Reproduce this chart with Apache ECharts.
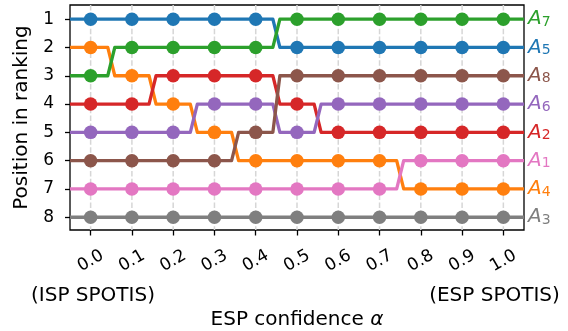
<!DOCTYPE html>
<html>
<head>
<meta charset="utf-8">
<script src="https://cdn.jsdelivr.net/npm/echarts@6/dist/echarts.min.js"></script>
<style>
html,body{margin:0;padding:0;background:#fff;}
#c{width:568px;height:331px;}
</style>
</head>
<body>
<div id="c"></div>
<script>
// ---- data ----
const alphas = ['0.0','0.1','0.2','0.3','0.4','0.5','0.6','0.7','0.8','0.9','1.0'];
const rankTicks = [1, 2, 3, 4, 5, 6, 7, 8];
const seriesNames = ['A5', 'A4', 'A7', 'A2', 'A6', 'A8', 'A1', 'A3'];
const seriesSubs  = ['5', '4', '7', '2', '6', '8', '1', '3'];
const seriesColors = ['#1f77b4', '#ff7f0e', '#2ca02c', '#d62728', '#9467bd', '#8c564b', '#e377c2', '#7f7f7f'];
const rankA5 = [1, 1, 1, 1, 1, 2, 2, 2, 2, 2, 2];
const rankA4 = [2, 3, 4, 5, 6, 6, 6, 6, 7, 7, 7];
const rankA7 = [3, 2, 2, 2, 2, 1, 1, 1, 1, 1, 1];
const rankA2 = [4, 4, 3, 3, 3, 4, 5, 5, 5, 5, 5];
const rankA6 = [5, 5, 5, 4, 4, 5, 4, 4, 4, 4, 4];
const rankA8 = [6, 6, 6, 6, 5, 3, 3, 3, 3, 3, 3];
const rankA1 = [7, 7, 7, 7, 7, 7, 7, 7, 6, 6, 6];
const rankA3 = [8, 8, 8, 8, 8, 8, 8, 8, 8, 8, 8];
const xLabelText = 'ESP confidence ';
const yLabelText = 'Position in ranking';
const leftNote = '(ISP SPOTIS)';
const rightNote = '(ESP SPOTIS)';

const allRanks = [rankA5, rankA4, rankA7, rankA2, rankA6, rankA8, rankA1, rankA3];
const FONT = 'DejaVu Sans';

// right labels: series finishing at each rank
const endByRank = rankTicks.map(r => allRanks.findIndex(rk => rk[rk.length - 1] === r));
const rich = {};
rankTicks.forEach((r, i) => {
  const k = endByRank[i];
  rich['a' + r] = {fontFamily: FONT, fontStyle: 'italic', fontSize: 20, color: seriesColors[k], lineHeight: 20, verticalAlign: 'bottom'};
  rich['s' + r] = {fontFamily: FONT, fontSize: 14, color: seriesColors[k], lineHeight: 14, padding: [9, 0, 0, 0], verticalAlign: 'bottom'};
});

function lineRenderer(ranks, color) {
  return function (params, api) {
    if (params.dataIndex !== 0) return null;
    const cs = params.coordSys;
    const pts = ranks.map((r, i) => api.coord([i, r]));
    const out = [[cs.x, pts[0][1]]];
    for (let i = 0; i < pts.length; i++) {
      if (i > 0) {
        const p0 = pts[i - 1], p1 = pts[i];
        const dx = p1[0] - p0[0];
        if (Math.abs(p0[1] - p1[1]) > 0.1) {
          out.push([p0[0] + dx * 0.415, p0[1]]);
          out.push([p0[0] + dx * 0.585, p1[1]]);
        }
      }
      out.push(pts[i]);
    }
    out.push([cs.x + cs.width, pts[pts.length - 1][1]]);
    return {
      type: 'polyline',
      shape: {points: out},
      style: {stroke: color, lineWidth: 3.3, fill: null, lineJoin: 'round'}
    };
  };
}

const series = [];
// vertical dashed grid lines
series.push({
  type: 'custom',
  silent: true,
  z: 1,
  data: alphas.map((a, i) => [i, 1]),
  renderItem: function (params, api) {
    const cs = params.coordSys;
    const x = api.coord([api.value(0), 1])[0];
    return {
      type: 'line',
      shape: {x1: x, y1: cs.y, x2: x, y2: cs.y + cs.height},
      style: {stroke: '#d6d6d6', lineWidth: 1.5, lineDash: [5.5, 2.4]}
    };
  }
});
allRanks.forEach((ranks, k) => {
  series.push({
    type: 'custom',
    name: seriesNames[k],
    silent: true,
    z: 2,
    clip: true,
    data: [[0, ranks[0]]],
    renderItem: lineRenderer(ranks, seriesColors[k])
  });
  series.push({
    type: 'scatter',
    name: seriesNames[k],
    silent: true,
    z: 2,
    symbol: 'circle',
    symbolSize: 13.5,
    itemStyle: {color: seriesColors[k], opacity: 1},
    data: ranks.map((r, i) => [i, r])
  });
});

const chart = echarts.init(document.getElementById('c'), null, {renderer: 'canvas'});
chart.setOption({
  animation: false,
  backgroundColor: '#ffffff',
  textStyle: {fontFamily: FONT},
  grid: {left: 70, right: 44, top: 5, bottom: 101, containLabel: false, outerBoundsMode: 'none', show: true, borderColor: '#000', borderWidth: 1.3, backgroundColor: 'transparent'},
  xAxis: {
    type: 'category',
    data: alphas,
    boundaryGap: true,
    axisLine: {show: false},
    axisTick: {show: true, alignWithLabel: true, length: 5.5, lineStyle: {color: '#000', width: 1.3}},
    axisLabel: {rotate: 30, align: 'center', verticalAlign: 'middle', margin: 31, fontSize: 17, color: '#000', fontFamily: FONT, interval: 0},
    splitLine: {show: false},
    name: xLabelText + '{i|α}',
    nameLocation: 'middle',
    nameGap: 80,
    nameTextStyle: {fontSize: 20, color: '#000', fontFamily: FONT, rich: {i: {fontSize: 20, fontStyle: 'italic', fontFamily: FONT, color: '#000'}}}
  },
  yAxis: [{
    type: 'value',
    inverse: true,
    min: 0.5,
    max: 8.45,
    axisLine: {show: false},
    axisTick: {show: true, length: 5, lineStyle: {color: '#000', width: 1.3}, customValues: rankTicks},
    axisLabel: {fontSize: 17, color: '#000', margin: 16, fontFamily: FONT, customValues: rankTicks},
    splitLine: {show: false},
    name: yLabelText,
    nameLocation: 'middle',
    nameGap: 36,
    nameTextStyle: {fontSize: 20, color: '#000', fontFamily: FONT}
  }, {
    type: 'value',
    inverse: true,
    position: 'right',
    min: 0.5,
    max: 8.45,
    axisLine: {show: false},
    axisTick: {show: false, customValues: rankTicks},
    splitLine: {show: false},
    axisLabel: {
      margin: 4,
      customValues: rankTicks,
      formatter: function (v) {
        const k = endByRank[v - 1];
        return '{a' + v + '|A}{s' + v + '|' + seriesSubs[k] + '}';
      },
      rich: rich
    }
  }],
  graphic: [
    {type: 'text', x: 93, y: 296, style: {text: leftNote, fill: '#000', font: '20px "DejaVu Sans"', align: 'center', verticalAlign: 'middle'}},
    {type: 'text', x: 494.5, y: 296, style: {text: rightNote, fill: '#000', font: '20px "DejaVu Sans"', align: 'center', verticalAlign: 'middle'}}
  ],
  series: series
});
</script>
</body>
</html>
